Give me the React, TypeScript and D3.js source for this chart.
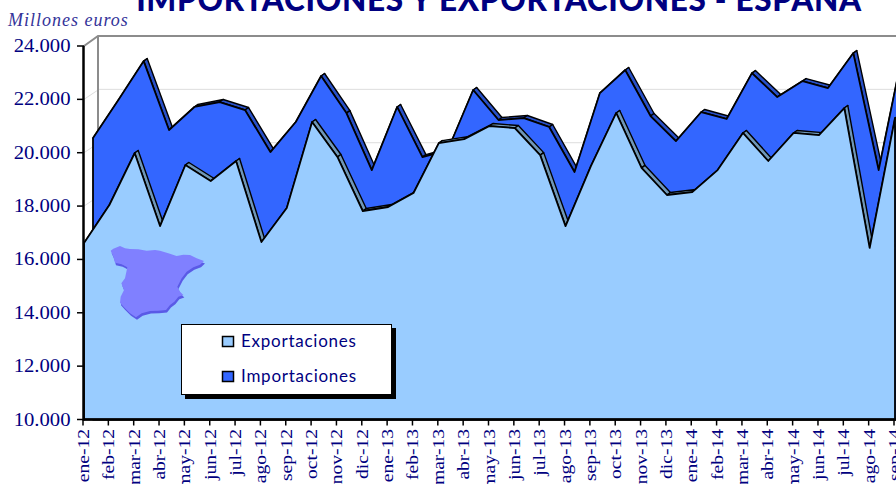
import React from "react";
import * as d3 from "d3";

const months = ["ene","feb","mar","abr","may","jun","jul","ago","sep","oct","nov","dic"];
const categories: string[] = Array.from({ length: 33 }, (_, i) => `${months[i % 12]}-${12 + Math.floor(i / 12)}`);
const exportaciones = [16615,18040,19990,17250,19540,18940,19690,16650,17930,21150,19840,17815,17965,18490,20360,20510,21000,20925,19910,17250,19500,21490,19430,18415,18525,19350,20740,19690,20740,20660,21675,16430,21300];
const importaciones = [20325,21750,23210,20625,21490,21675,21375,19800,20925,22650,21260,19125,21490,19610,19876,22125,21000,21075,20740,19050,22010,22875,21150,20210,21300,21040,22760,21860,22460,22200,23510,19125,23775];
const yTicks = [10000,12000,14000,16000,18000,20000,22000,24000];
const legendItems = [{ name: "Exportaciones", color: "#99ccff" }, { name: "Importaciones", color: "#3366ff" }];
const spainOutline: [number, number][] = [[92,62],[100,56],[120,48],[135,55],[150,57],[175,58],[200,62],[225,60],[240,62],[265,70],[290,78],[310,74],[330,75],[350,85],[372,93],[360,104],[340,112],[320,125],[305,145],[292,170],[300,185],[310,195],[295,200],[283,215],[270,225],[258,240],[235,242],[210,243],[185,250],[168,262],[150,250],[132,232],[120,218],[122,200],[132,180],[124,160],[135,145],[142,112],[125,103],[105,98],[100,80]];

const NAVY = "#000080";
const fmt = (v: number) => d3.format(",")(v).replace(/,/g, ".");

export default function App() {
  const x = d3.scaleLinear().domain([0, 32]).range([84, 895]);
  const y = d3.scaleLinear().domain([10000, 24000]).range([419.5, 46]);
  const wallDx = 15, wallDy = -10;

  const series = [
    { values: importaciones, color: "#3366ff", ribbon: "#2850c8", dx: 9, dy: -6 },
    { values: exportaciones, color: "#99ccff", ribbon: "#6f97b8", dx: 0, dy: 0 },
  ];
  const rDx = 3.5, rDy = -2.5;

  const spainPts = spainOutline.map(([a, b]) => [80 + a / 3, 230 + b / 3] as [number, number]);
  const spainPath = d3.line().curve(d3.curveLinearClosed)(spainPts) || "";

  return (
    <svg width={896} height={484} style={{ position: "fixed", left: 0, top: 0, background: "#fff" }}>
      <text x={499} y={11} textAnchor="middle" fontFamily="Lato" fontWeight={900} fontSize={31.5} fill={NAVY} letterSpacing={0.7}>
        IMPORTACIONES Y EXPORTACIONES - ESPAÑA
      </text>
      <text x={8} y={26} fontFamily="Liberation Serif" fontStyle="italic" fontSize={18} fill="#333399" letterSpacing={1}>
        Millones euros
      </text>

      {/* back wall */}
      {yTicks.slice(1, -1).map((t) => (
        <polyline key={t} fill="none" stroke="#dddddd" strokeWidth={1}
          points={`${x(0)},${y(t)} ${x(0) + wallDx},${y(t) + wallDy} 896,${y(t) + wallDy}`} />
      ))}
      <line x1={x(0) + wallDx - 1} x2={x(0) + wallDx - 1} y1={y(24000) + wallDy} y2={y(10000) + wallDy} stroke="#8c8c8c" strokeWidth={2} />
      <polyline fill="none" stroke="#8c8c8c" strokeWidth={2}
        points={`${x(0)},${y(24000)} ${x(0) + wallDx - 1},${y(24000) + wallDy} 896,${y(24000) + wallDy}`} />

      {series.map((s) => {
        const fx = (i: number) => x(i) + s.dx;
        const fy = (v: number) => y(v) + s.dy;
        const face = d3.area<number>().x((_, i) => fx(i)).y0(y(10000)).y1((v) => fy(v))(s.values) || "";
        return (
          <g key={s.color}>
            {s.values.slice(0, -1).map((v, i) => {
              const a = [fx(i), fy(v)], b = [fx(i + 1), fy(s.values[i + 1])];
              return (
                <polygon key={i} fill={s.ribbon} stroke="#000" strokeWidth={1.4} strokeLinejoin="round"
                  points={`${a[0]},${a[1]} ${b[0]},${b[1]} ${b[0] + rDx},${b[1] + rDy} ${a[0] + rDx},${a[1] + rDy}`} />
              );
            })}
            <path d={face} fill={s.color} stroke="#000" strokeWidth={1.8} strokeLinejoin="round" />
          </g>
        );
      })}

      {/* Spain */}
      <path d={spainPath} fill="#5a5ae6" transform="translate(1,2.5)" />
      <path d={spainPath} fill="#8080ff" />

      {/* axes */}
      <line x1={x(0) - 0.5} x2={x(0) - 0.5} y1={y(24000)} y2={y(10000) + 1} stroke="#000" strokeWidth={2.5} />
      <line x1={x(0) - 1} x2={896} y1={y(10000)} y2={y(10000)} stroke="#000" strokeWidth={2.5} />
      {yTicks.map((t) => (
        <g key={t}>
          <line x1={x(0) - 7} x2={x(0)} y1={y(t)} y2={y(t)} stroke="#000" strokeWidth={1.5} />
          <text transform={`translate(70.5,${y(t) + 6}) scale(1.15,1)`} textAnchor="end" fontFamily="Liberation Serif" fontSize={18} fill={NAVY}>
            {fmt(t)}
          </text>
        </g>
      ))}
      {categories.map((c, i) => (
        <g key={c}>
          <line x1={x(i) - 1} x2={x(i) - 1} y1={y(10000)} y2={y(10000) + 6} stroke="#000" strokeWidth={1.5} />
          <text transform={`translate(${x(i) + 5},429) rotate(-90) scale(1.15,1)`} textAnchor="end" fontFamily="Liberation Serif" fontSize={17} fill={NAVY}>
            {c}
          </text>
        </g>
      ))}

      {/* legend */}
      <rect x={185} y={328} width={211} height={71} fill="#000" />
      <rect x={181.5} y={324.5} width={210} height={70} fill="#fff" stroke="#000" strokeWidth={1} />
      {legendItems.map((l, i) => (
        <g key={l.name}>
          <rect x={222.5} y={336.5 + i * 35} width={11} height={10} fill={l.color} stroke="#000" strokeWidth={1.5} />
          <text x={241} y={347 + i * 35} fontFamily="Lato" fontSize={17} fill={NAVY} letterSpacing={0.75}>
            {l.name}
          </text>
        </g>
      ))}
    </svg>
  );
}
